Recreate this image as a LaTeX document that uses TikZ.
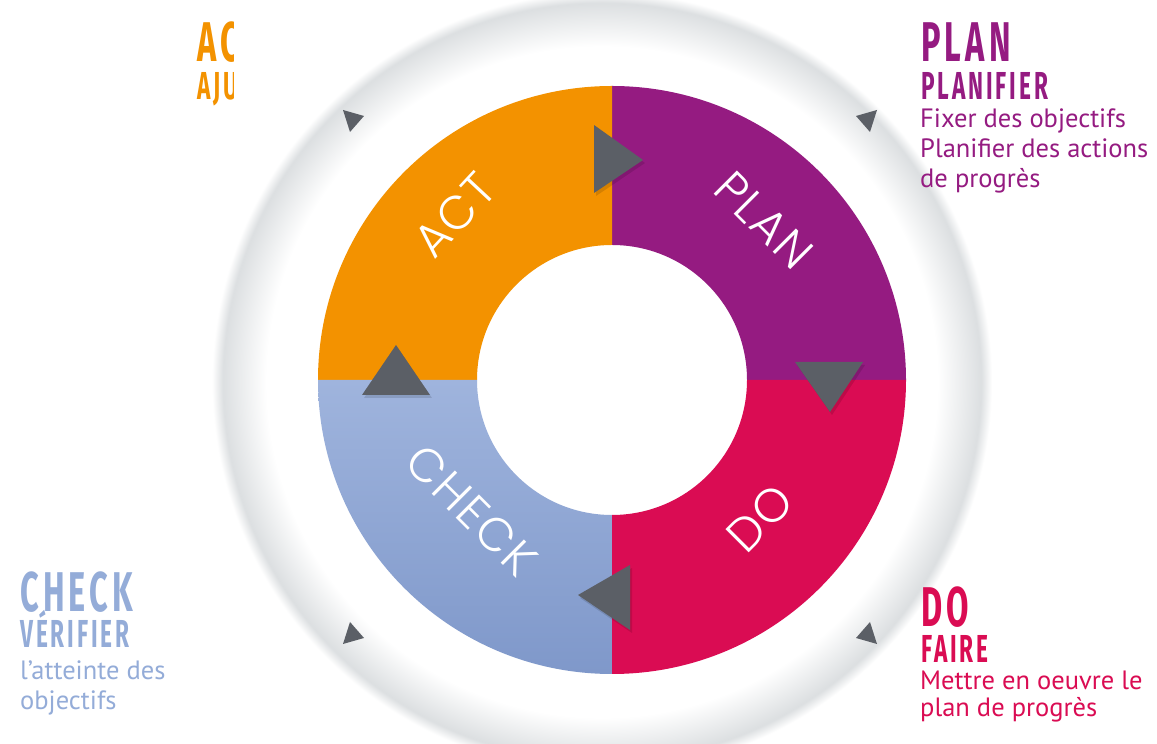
\documentclass[tikz,border=0pt]{standalone}
\usepackage{fontspec}
\setmainfont{PT Sans}
\newfontfamily\condfont{Fira Sans}[FakeStretch=0.58,LetterSpace=7.5]
\newfontfamily\ringfont{Poppins}[UprightFont={* Light},LetterSpace=4]
\definecolor{actc}{HTML}{F39200}
\definecolor{planc}{HTML}{951B81}
\definecolor{doc}{HTML}{DA0C53}
\definecolor{checkc}{HTML}{94ACD8}
\definecolor{bluetop}{HTML}{9FB4DD}
\definecolor{bluebot}{HTML}{7F98CA}
\definecolor{arrowg}{HTML}{5B5F66}
\definecolor{rimg}{HTML}{DCDFE1}
\pgfdeclareradialshading{discshade}{\pgfpoint{0bp}{0bp}}{color(0bp)=(white); color(21.5bp)=(white); color(24.3bp)=(rimg); color(25bp)=(white); color(50bp)=(white)}
\begin{document}
\begin{tikzpicture}[x=1pt,y=1pt,
  title/.style={anchor=base west,inner sep=0pt,font=\condfont\bfseries\fontsize{56}{56}\selectfont},
  sub/.style={anchor=base west,inner sep=0pt,font=\condfont\bfseries\fontsize{39}{39}\selectfont},
  body/.style={anchor=base west,inner sep=0pt,font=\fontsize{26.5}{30}\selectfont},
  ringlab/.style={text=white,font=\ringfont\fontsize{47}{47}\selectfont,inner sep=0pt},
  bigarrow/.style={fill=arrowg},
  arrowshadow/.style={fill=black,opacity=0.12},
  smallarrow/.style={fill=arrowg}]
\useasboundingbox (0,0) rectangle (1157,744);
\clip (0,0) rectangle (1157,744);
\fill[white] (0,0) rectangle (1157,744);
% ACT text, cut by the disc picture
\begin{scope}
  \clip (0,600) rectangle (233,744);
  \node[title,text=actc] (actT) at (197,682) {ACT};
  \node[sub,text=actc] (actS) at (197,644) {AJUSTER};
\end{scope}
% background disc
\shade[shading=discshade] (602,362) circle[radius=390];
% ring quadrants
\coordinate (C) at (612,364);
\fill[planc] (906,364) arc[start angle=0,end angle=90,radius=294] -- (612,499) arc[start angle=90,end angle=0,radius=135] -- cycle;
\fill[actc] (612,658) arc[start angle=90,end angle=180,radius=294] -- (477,364) arc[start angle=180,end angle=90,radius=135] -- cycle;
\shade[top color=bluetop,bottom color=bluebot] (318,364) arc[start angle=180,end angle=270,radius=294] -- (612,229) arc[start angle=270,end angle=180,radius=135] -- cycle;
\fill[doc] (612,70) arc[start angle=270,end angle=360,radius=294] -- (747,364) arc[start angle=360,end angle=270,radius=135] -- cycle;
% big arrows
\fill[arrowshadow] (596,616) -- (645,581) -- (596,548) -- cycle;
\fill[bigarrow] (594,619) -- (643,584) -- (594,551) -- cycle;
\fill[arrowshadow] (364,346) -- (432,346) -- (398,396) -- cycle;
\fill[bigarrow] (362,349) -- (430,349) -- (396,399) -- cycle;
\fill[arrowshadow] (797,379) -- (865,379) -- (832,329) -- cycle;
\fill[bigarrow] (795,382) -- (863,382) -- (830,332) -- cycle;
\fill[arrowshadow] (632,176) -- (632,111) -- (580,146) -- cycle;
\fill[bigarrow] (630,179) -- (630,114) -- (578,149) -- cycle;
% small arrows on the disc
\fill[smallarrow] (343,634) -- (364,628) -- (350,612) -- cycle;
\fill[smallarrow] (877,634) -- (856,628) -- (870,612) -- cycle;
\fill[smallarrow] (343,100) -- (364,106) -- (350,122) -- cycle;
\fill[smallarrow] (877,100) -- (856,106) -- (870,122) -- cycle;
% ring labels
\node[ringlab,rotate=47] (ringAct) at (455,529) {ACT};
\node[ringlab,rotate=-45] (ringPlan) at (764,524) {PLAN};
\node[ringlab,rotate=45] (ringDo) at (760,226) {DO};
\node[ringlab,rotate=-45] (ringCheck) at (472,234) {CHECK};
% PLAN text
\node[title,text=planc] (planT) at (921,682) {PLAN};
\node[sub,text=planc] (planS) at (921,644) {PLANIFIER};
\node[body,text=planc] (planB1) at (920,616) {Fixer des objectifs};
\node[body,text=planc] (planB2) at (920,586) {Planifier des actions};
\node[body,text=planc] (planB3) at (920,556) {de progrès};
% CHECK text
\node[title,text=checkc] (checkT) at (20,132) {CHECK};
\node[sub,text=checkc] (checkS) at (20,96) {VÉRIFIER};
\node[body,text=checkc] (checkB1) at (20,64) {l’atteinte des};
\node[body,text=checkc] (checkB2) at (20,34) {objectifs};
% DO text
\node[title,text=doc] (doT) at (921,117) {DO};
\node[sub,text=doc] (doS) at (921,81) {FAIRE};
\node[body,text=doc] (doB1) at (920,54) {Mettre en oeuvre le};
\node[body,text=doc] (doB2) at (920,27) {plan de progrès};
\end{tikzpicture}
\end{document}
